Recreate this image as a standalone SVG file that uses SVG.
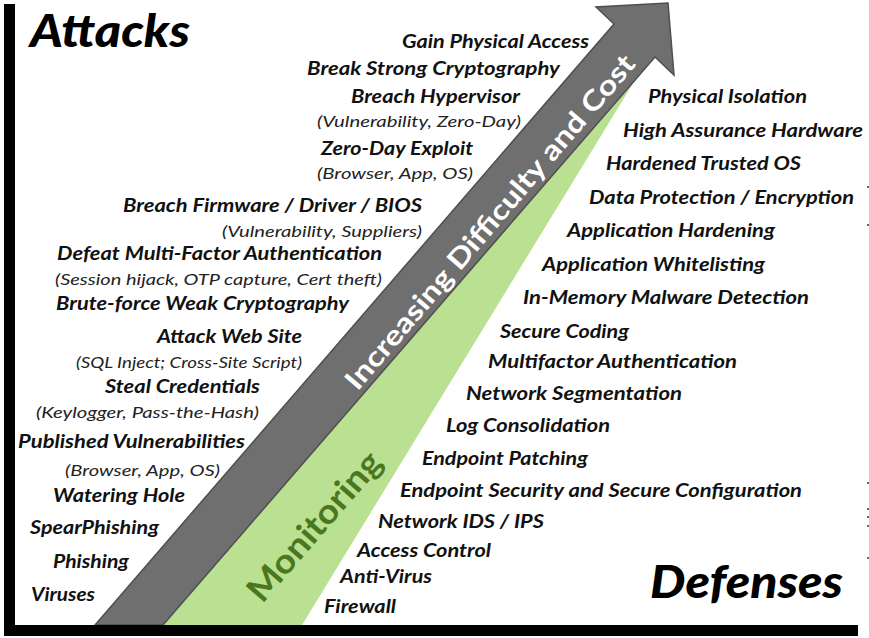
<svg xmlns="http://www.w3.org/2000/svg" width="869" height="638" viewBox="0 0 869 638">
<style>
.b{font-family:Lato,"Open Sans","Liberation Sans",sans-serif;font-weight:700;font-style:italic;font-size:18px;fill:#111}
.p{font-family:Lato,"Open Sans","Liberation Sans",sans-serif;font-weight:400;font-style:italic;font-size:15.5px;fill:#222}
.t{font-family:Lato,"Open Sans","Liberation Sans",sans-serif;font-weight:900;font-style:italic;font-size:45px;fill:#000}
.e{text-anchor:end}
</style>
<rect width="869" height="638" fill="#fff"/>
<g id="wedge">
<polygon points="163,625 302,625 640,72 650,60" fill="#bae091"/>
</g>
<g id="arrow">
<polygon points="95,625 163,625 655,57 674,75 668,3 596,7 614,24" fill="#6f6f6f" stroke="#4f4f4f" stroke-width="1.5" stroke-linejoin="miter"/>
<text transform="translate(490,222) rotate(-49.5)" text-anchor="middle" dy="9.5" font-family="Lato,'Open Sans',sans-serif" font-size="27.5" font-weight="700" fill="#fff" textLength="430" lengthAdjust="spacingAndGlyphs">Increasing Difficulty and Cost</text>
</g>
<g id="monitoring">
<text transform="translate(314,526) rotate(-49.1)" text-anchor="middle" dy="12" font-family="Lato,'Open Sans',sans-serif" font-size="34" font-weight="700" fill="#4a781f" textLength="186" lengthAdjust="spacingAndGlyphs">Monitoring</text>
</g>
<g id="axes">
<rect x="4" y="4" width="11" height="632" fill="#000"/>
<rect x="4" y="625" width="854" height="11" fill="#000"/>
<g fill="#666">
<rect x="867" y="186" width="2" height="2"/><rect x="867" y="224" width="2" height="2"/><rect x="867" y="482" width="2" height="2"/><rect x="867" y="508" width="2" height="2"/><rect x="867" y="516" width="2" height="2"/><rect x="867" y="525" width="2" height="2"/><rect x="867" y="557" width="2" height="2"/>
</g>
</g>
<g id="titles">
<text class="t" x="30" y="47" textLength="160" lengthAdjust="spacingAndGlyphs">Attacks</text>
<text class="t" x="650" y="598" textLength="193" lengthAdjust="spacingAndGlyphs">Defenses</text>
</g>
<g id="attacks" class="e">
<text class="b e" x="589" y="48" textLength="187" lengthAdjust="spacingAndGlyphs">Gain Physical Access</text>
<text class="b e" x="560" y="75" textLength="253" lengthAdjust="spacingAndGlyphs">Break Strong Cryptography</text>
<text class="b e" x="520" y="103" textLength="169" lengthAdjust="spacingAndGlyphs">Breach Hypervisor</text>
<text class="p e" x="521" y="127" textLength="204" lengthAdjust="spacingAndGlyphs">(Vulnerability, Zero-Day)</text>
<text class="b e" x="473" y="155" textLength="152" lengthAdjust="spacingAndGlyphs">Zero-Day Exploit</text>
<text class="p e" x="473" y="179" textLength="156" lengthAdjust="spacingAndGlyphs">(Browser, App, OS)</text>
<text class="b e" x="422" y="212" textLength="299" lengthAdjust="spacingAndGlyphs">Breach Firmware / Driver / BIOS</text>
<text class="p e" x="422" y="237" textLength="200" lengthAdjust="spacingAndGlyphs">(Vulnerability, Suppliers)</text>
<text class="b e" x="382" y="260" textLength="325" lengthAdjust="spacingAndGlyphs">Defeat Multi-Factor Authentication</text>
<text class="p e" x="382" y="285" textLength="327" lengthAdjust="spacingAndGlyphs">(Session hijack, OTP capture, Cert theft)</text>
<text class="b e" x="349" y="310" textLength="293" lengthAdjust="spacingAndGlyphs">Brute-force Weak Cryptography</text>
<text class="b e" x="302" y="343" textLength="145" lengthAdjust="spacingAndGlyphs">Attack Web Site</text>
<text class="p e" x="302" y="368" textLength="226" lengthAdjust="spacingAndGlyphs">(SQL Inject; Cross-Site Script)</text>
<text class="b e" x="260" y="393" textLength="155" lengthAdjust="spacingAndGlyphs">Steal Credentials</text>
<text class="p e" x="259" y="418" textLength="223" lengthAdjust="spacingAndGlyphs">(Keylogger, Pass-the-Hash)</text>
<text class="b e" x="245" y="448" textLength="227" lengthAdjust="spacingAndGlyphs">Published Vulnerabilities</text>
<text class="p e" x="220" y="476" textLength="155" lengthAdjust="spacingAndGlyphs">(Browser, App, OS)</text>
<text class="b e" x="185" y="502" textLength="132" lengthAdjust="spacingAndGlyphs">Watering Hole</text>
<text class="b e" x="159" y="534" textLength="129" lengthAdjust="spacingAndGlyphs">SpearPhishing</text>
<text class="b e" x="129" y="568" textLength="76" lengthAdjust="spacingAndGlyphs">Phishing</text>
<text class="b e" x="95" y="601" textLength="64" lengthAdjust="spacingAndGlyphs">Viruses</text>
</g>
<g id="defenses">
<text class="b" x="648" y="103" textLength="159" lengthAdjust="spacingAndGlyphs">Physical Isolation</text>
<text class="b" x="623" y="137" textLength="240" lengthAdjust="spacingAndGlyphs">High Assurance Hardware</text>
<text class="b" x="606" y="170" textLength="195" lengthAdjust="spacingAndGlyphs">Hardened Trusted OS</text>
<text class="b" x="589" y="204" textLength="265" lengthAdjust="spacingAndGlyphs">Data Protection / Encryption</text>
<text class="b" x="567" y="237" textLength="208" lengthAdjust="spacingAndGlyphs">Application Hardening</text>
<text class="b" x="542" y="271" textLength="223" lengthAdjust="spacingAndGlyphs">Application Whitelisting</text>
<text class="b" x="523" y="304" textLength="286" lengthAdjust="spacingAndGlyphs">In-Memory Malware Detection</text>
<text class="b" x="500" y="338" textLength="129" lengthAdjust="spacingAndGlyphs">Secure Coding</text>
<text class="b" x="488" y="368" textLength="249" lengthAdjust="spacingAndGlyphs">Multifactor Authentication</text>
<text class="b" x="466" y="400" textLength="216" lengthAdjust="spacingAndGlyphs">Network Segmentation</text>
<text class="b" x="446" y="432" textLength="164" lengthAdjust="spacingAndGlyphs">Log Consolidation</text>
<text class="b" x="422" y="465" textLength="166" lengthAdjust="spacingAndGlyphs">Endpoint Patching</text>
<text class="b" x="400" y="497" textLength="402" lengthAdjust="spacingAndGlyphs">Endpoint Security and Secure Configuration</text>
<text class="b" x="378" y="528" textLength="166" lengthAdjust="spacingAndGlyphs">Network IDS / IPS</text>
<text class="b" x="357" y="557" textLength="134" lengthAdjust="spacingAndGlyphs">Access Control</text>
<text class="b" x="340" y="583" textLength="92" lengthAdjust="spacingAndGlyphs">Anti-Virus</text>
<text class="b" x="324" y="613" textLength="72" lengthAdjust="spacingAndGlyphs">Firewall</text>
</g>
</svg>
